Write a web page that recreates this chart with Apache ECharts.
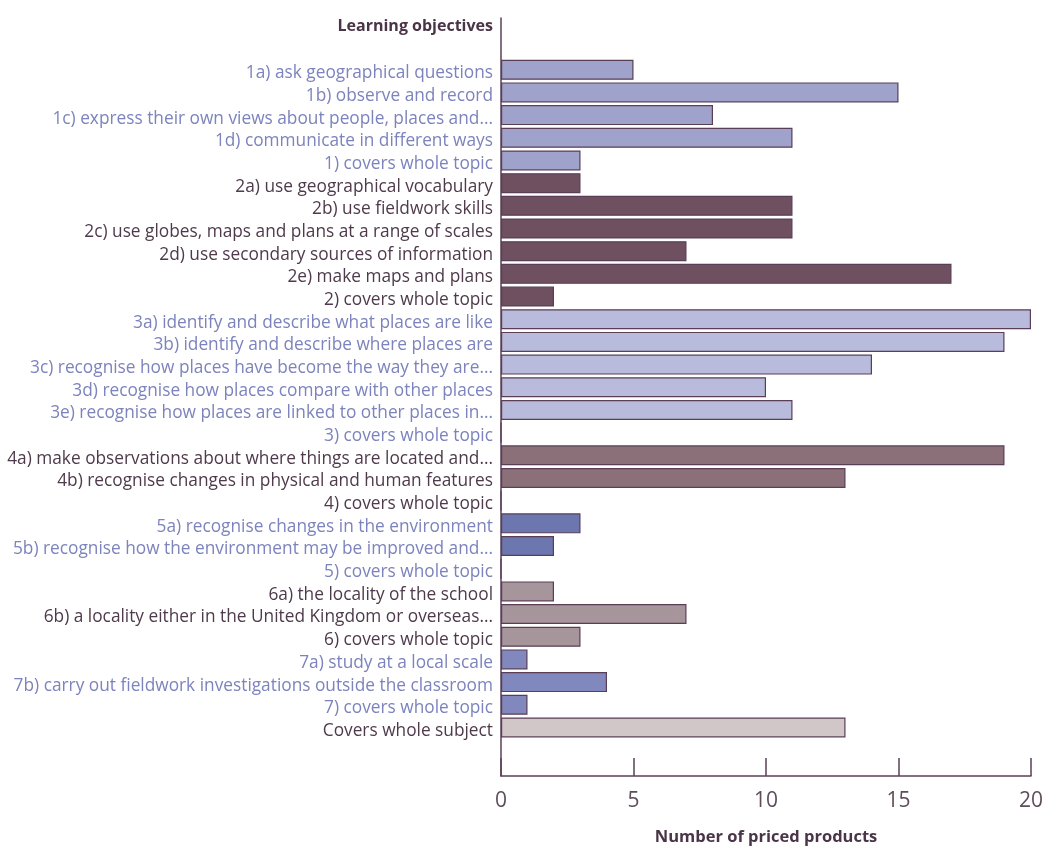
<!DOCTYPE html>
<html>
<head>
<meta charset="utf-8">
<title>Learning objectives covered by priced products</title>
<script src="https://cdn.jsdelivr.net/npm/echarts@6/dist/echarts.min.js"></script>
<style>
  html, body { margin: 0; padding: 0; background: #ffffff; }
  #chart { width: 1045px; height: 848px; }
</style>
</head>
<body>
<div id="chart"></div>
<script>
// Learning objectives, top to bottom
const objectives = [
  '1a) ask geographical questions',
  '1b) observe and record',
  '1c) express their own views about people, places and...',
  '1d) communicate in different ways',
  '1) covers whole topic',
  '2a) use geographical vocabulary',
  '2b) use fieldwork skills',
  '2c) use globes, maps and plans at a range of scales',
  '2d) use secondary sources of information',
  '2e) make maps and plans',
  '2) covers whole topic',
  '3a) identify and describe what places are like',
  '3b) identify and describe where places are',
  '3c) recognise how places have become the way they are...',
  '3d) recognise how places compare with other places',
  '3e) recognise how places are linked to other places in...',
  '3) covers whole topic',
  '4a) make observations about where things are located and...',
  '4b) recognise changes in physical and human features',
  '4) covers whole topic',
  '5a) recognise changes in the environment',
  '5b) recognise how the environment may be improved and...',
  '5) covers whole topic',
  '6a) the locality of the school',
  '6b) a locality either in the United Kingdom or overseas...',
  '6) covers whole topic',
  '7a) study at a local scale',
  '7b) carry out fieldwork investigations outside the classroom',
  '7) covers whole topic',
  'Covers whole subject'
];

// Number of priced products addressing each objective
const productCounts = [
  5, 15, 8, 11, 3,
  3, 11, 11, 7, 17, 2,
  20, 19, 14, 10, 11, 0,
  19, 13, 0,
  3, 2, 0,
  2, 7, 3,
  1, 4, 1,
  13
];

// Topic each objective belongs to (8 = whole subject)
const objectiveTopic = [
  1, 1, 1, 1, 1,
  2, 2, 2, 2, 2, 2,
  3, 3, 3, 3, 3, 3,
  4, 4, 4,
  5, 5, 5,
  6, 6, 6,
  7, 7, 7,
  8
];

// Value axis ticks
const xTickStep = 5;
const xMax = 20;

// Per-topic styling
const topicFill = {
  1: '#9fa3cb', 2: '#6f5061', 3: '#b9bbdc', 4: '#8b707a',
  5: '#6c77b0', 6: '#a7959c', 7: '#8188bd', 8: '#d1c7c9'
};
const topicLabel = {
  1: '#7c83bd', 2: '#4e3a4b', 3: '#7c83bd', 4: '#4e3a4b',
  5: '#7c83bd', 6: '#4e3a4b', 7: '#7c83bd', 8: '#4e3a4b'
};

const FONT = '"Open Sans", "Noto Sans", sans-serif';
const INK = '#4a3447';
const AXIS = '#5a4257';

// rich-text styles for the objective labels, one per topic
const labelRich = {};
Object.keys(topicLabel).forEach((t) => {
  labelRich['t' + t] = {
    color: topicLabel[t],
    fontFamily: FONT,
    fontSize: 17.3,
    padding: [7, 0, 0, 0]
  };
});

const chart = echarts.init(document.getElementById('chart'), null, { renderer: 'canvas' });

const rowCount = objectives.length;
const band = 22.68;
const barsTop = 58.4;
const barsBottom = 848 - (barsTop + band * rowCount);

chart.setOption({
  animation: false,
  backgroundColor: '#ffffff',
  title: {
    text: 'Learning objectives',
    right: 552,
    top: 18,
    padding: 0,
    textStyle: { fontFamily: FONT, fontWeight: 'bold', fontSize: 16, color: INK }
  },
  grid: [
    // frame with the axis lines and value scale
    { left: 501, right: 14, top: 18, bottom: 72, outerBoundsMode: 'none' },
    // rows of bars
    { left: 501, right: 14, top: barsTop, bottom: barsBottom, outerBoundsMode: 'none' }
  ],
  xAxis: [
    {
      gridIndex: 0,
      type: 'value',
      min: 0,
      max: xMax,
      interval: xTickStep,
      axisLine: { show: true, lineStyle: { color: AXIS, width: 1.5 } },
      axisTick: { show: true, inside: true, length: 18, lineStyle: { color: AXIS, width: 1.5 } },
      axisLabel: { fontFamily: FONT, fontSize: 21, color: '#5e4e5c', margin: 15 },
      splitLine: { show: false },
      name: 'Number of priced products',
      nameLocation: 'middle',
      nameGap: 53,
      nameTextStyle: { fontFamily: FONT, fontWeight: 'bold', fontSize: 16.5, color: INK }
    },
    {
      gridIndex: 1,
      type: 'value',
      min: 0,
      max: xMax,
      show: false
    }
  ],
  yAxis: [
    {
      gridIndex: 0,
      type: 'value',
      min: 0,
      max: 1,
      axisLine: { show: true, lineStyle: { color: AXIS, width: 1.5 } },
      axisTick: { show: false },
      axisLabel: { show: false },
      splitLine: { show: false }
    },
    {
      gridIndex: 1,
      type: 'category',
      inverse: true,
      data: objectives,
      axisLine: { show: false },
      axisTick: { show: false },
      axisLabel: {
        margin: 8,
        formatter: (name, i) => '{t' + objectiveTopic[i] + '|' + name + '}',
        rich: labelRich
      }
    }
  ],
  series: [
    {
      type: 'bar',
      xAxisIndex: 1,
      yAxisIndex: 1,
      barWidth: 20,
      data: productCounts.map((v, i) => ({
        value: v,
        itemStyle: { color: topicFill[objectiveTopic[i]] }
      })),
      itemStyle: { borderColor: '#5a3e56', borderWidth: 1.2 }
    }
  ]
});
</script>
</body>
</html>
